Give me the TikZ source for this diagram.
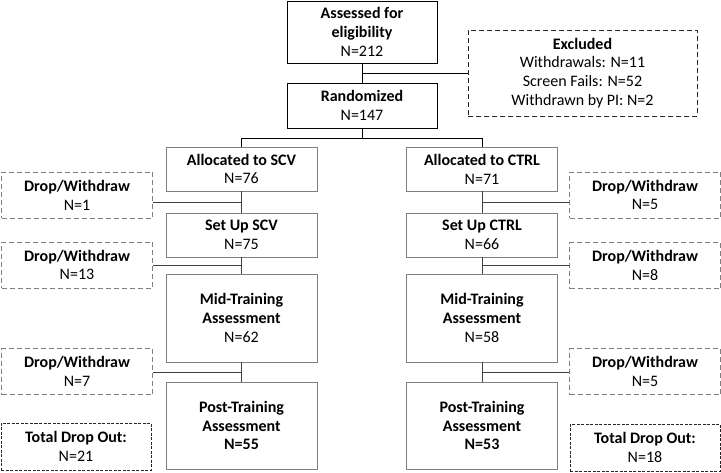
\documentclass[tikz,border=0pt]{standalone}
\usepackage{fontspec}
\setmainfont{Carlito}
\usetikzlibrary{calc}
\definecolor{boxgray}{HTML}{7F7F7F}
\definecolor{linegray}{HTML}{404040}
\tikzset{
  base/.style={rectangle, inner sep=0pt, align=center, font=\fontsize{16}{18.8}\selectfont, line width=0.9pt},
  mainbox/.style={base, draw=black},
  graybox/.style={base, draw=boxgray, minimum width=151pt},
  dropbox/.style={base, draw=boxgray, dash pattern=on 5pt off 3pt, minimum width=151pt, minimum height=46pt},
  exclbox/.style={base, draw=black!85, dash pattern=on 5pt off 3pt},
  totalbox/.style={base, draw=black!85, dash pattern=on 3pt off 1.5pt, minimum width=150pt, minimum height=47pt},
  conn/.style={line width=0.9pt, draw=black},
  gconn/.style={line width=0.9pt, draw=linegray},
}
\begin{document}
\begin{tikzpicture}[x=1pt,y=-1pt]
\useasboundingbox (0,0) rectangle (721,472);
% main top
\node[mainbox, minimum width=150pt, minimum height=62pt] (assess) at (362,32) {\textbf{Assessed for}\\\textbf{eligibility}\\N=212};
\node[mainbox, minimum width=150pt, minimum height=45pt] (rand) at (362,105.5) {\textbf{Randomized}\\N=147};
\node[exclbox, minimum width=229pt, minimum height=86pt] (excl) at (582.5,73) {\textbf{Excluded}\\Withdrawals: N=11\\Screen Fails: N=52\\Withdrawn by PI: N=2};
% SCV column
\node[graybox, minimum height=44pt] (allocS) at (241.5,169) {\textbf{Allocated to SCV}\\N=76};
\node[graybox, minimum height=44pt] (setupS) at (241.5,235) {\textbf{Set Up SCV}\\N=75};
\node[graybox, minimum height=88pt] (midS) at (241.5,318) {\textbf{Mid-Training}\\\textbf{Assessment}\\N=62};
\node[graybox, minimum height=87pt] (postS) at (241.5,425.5) {\textbf{Post-Training}\\\textbf{Assessment}\\\textbf{N=55}};
% CTRL column
\node[graybox, minimum height=44pt] (allocC) at (482,169) {\textbf{Allocated to CTRL}\\N=71};
\node[graybox, minimum height=44pt] (setupC) at (482,235) {\textbf{Set Up CTRL}\\N=66};
\node[graybox, minimum height=88pt] (midC) at (482,318) {\textbf{Mid-Training}\\\textbf{Assessment}\\N=58};
\node[graybox, minimum height=87pt] (postC) at (482,425.5) {\textbf{Post-Training}\\\textbf{Assessment}\\\textbf{N=53}};
% drop boxes left
\node[dropbox] (dL1) at (77,195) {\textbf{Drop/Withdraw}\\N=1};
\node[dropbox] (dL2) at (77,265) {\textbf{Drop/Withdraw}\\N=13};
\node[dropbox] (dL3) at (77,371.5) {\textbf{Drop/Withdraw}\\N=7};
\node[totalbox] (tL) at (76,446.5) {\textbf{Total Drop Out:}\\N=21};
% drop boxes right
\node[dropbox] (dR1) at (645,195) {\textbf{Drop/Withdraw}\\N=5};
\node[dropbox] (dR2) at (645,265.5) {\textbf{Drop/Withdraw}\\N=8};
\node[dropbox] (dR3) at (645,371.5) {\textbf{Drop/Withdraw}\\N=5};
\node[totalbox] (tR) at (645,447.5) {\textbf{Total Drop Out:}\\N=18};
% connectors top
\draw[conn] (assess.south) -- (rand.north);
\coordinate (bE) at ($(assess.south)!0.5!(rand.north)$);
\draw[conn] (bE) -- (excl.west |- bE);
\coordinate (bR) at ($(rand.south)+(0,9.5)$);
\draw[conn] (rand.south) -- (bR);
\draw[conn] (allocS.north |- bR) -- (allocC.north |- bR);
\draw[conn] (allocS.north |- bR) -- (allocS.north);
\draw[conn] (allocC.north |- bR) -- (allocC.north);
% SCV chain
\draw[gconn] (allocS.south) -- (setupS.north);
\draw[gconn] (setupS.south) -- (midS.north);
\draw[gconn] (midS.south) -- (postS.north);
\coordinate (s1) at ($(allocS.south)!0.5!(setupS.north)$);
\coordinate (s2) at ($(setupS.south)!0.5!(midS.north)$);
\coordinate (s3) at ($(midS.south)!0.5!(postS.north)$);
\draw[gconn] (s1) -- (dL1.east |- s1);
\draw[gconn] (s2) -- (dL2.east |- s2);
\draw[gconn] (s3) -- (dL3.east |- s3);
% CTRL chain
\draw[gconn] (allocC.south) -- (setupC.north);
\draw[gconn] (setupC.south) -- (midC.north);
\draw[gconn] (midC.south) -- (postC.north);
\coordinate (c1) at ($(allocC.south)!0.5!(setupC.north)$);
\coordinate (c2) at ($(setupC.south)!0.5!(midC.north)$);
\coordinate (c3) at ($(midC.south)!0.5!(postC.north)$);
\draw[gconn] (c1) -- (dR1.west |- c1);
\draw[gconn] (c2) -- (dR2.west |- c2);
\draw[gconn] (c3) -- (dR3.west |- c3);
\end{tikzpicture}
\end{document}
